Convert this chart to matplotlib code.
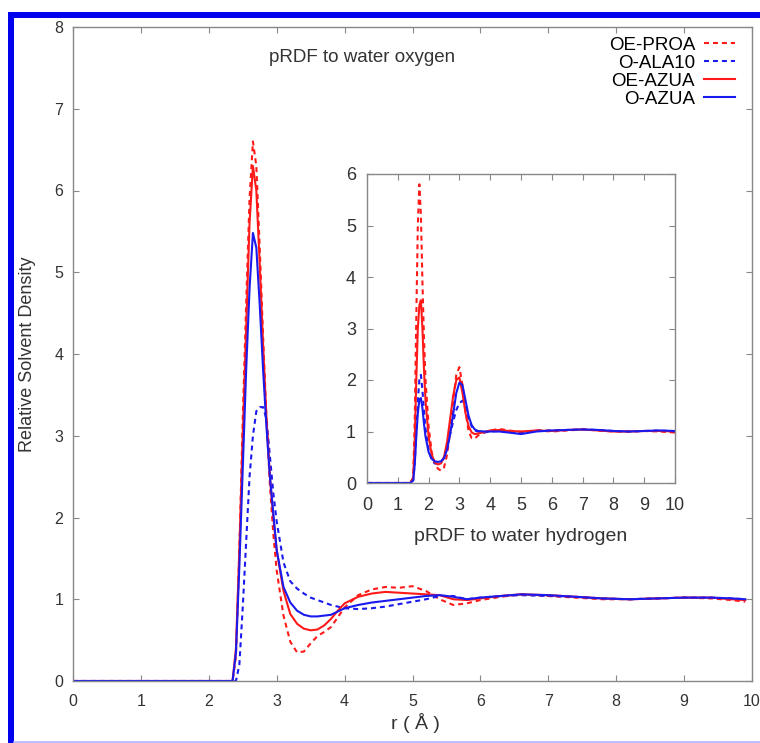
import matplotlib.pyplot as plt
from matplotlib.patches import Rectangle
from matplotlib.lines import Line2D

plt.rcParams['font.family'] = ['Liberation Sans', 'DejaVu Sans']

# main panel: pRDF to water oxygen
r_main = [0, 2.35, 2.4, 2.45, 2.5, 2.55, 2.6, 2.65, 2.7, 2.75, 2.8, 2.85, 2.9, 2.95,
          3.0, 3.1, 3.2, 3.3, 3.4, 3.5, 3.6, 3.7, 3.8, 3.9, 4.0, 4.2, 4.4, 4.6, 4.8,
          5.0, 5.2, 5.4, 5.6, 5.8, 6.0, 6.3, 6.6, 7.0, 7.4, 7.8, 8.2, 8.6, 9.0, 9.4,
          9.7, 9.9]
oe_proa = [0, 0, 0.3, 1.6, 3.2, 4.6, 5.9, 6.6, 6.3, 5.3, 4.2, 3.2, 2.4, 1.8,
           1.35, 0.8, 0.48, 0.35, 0.36, 0.46, 0.55, 0.6, 0.66, 0.78, 0.9, 1.05, 1.12, 1.15, 1.14,
           1.16, 1.1, 1.0, 0.93, 0.95, 0.99, 1.03, 1.06, 1.04, 1.02, 1.0, 1.0, 1.01, 1.02, 1.01,
           0.99, 0.97]
o_ala10 = [0, 0, 0, 0.2, 0.9, 1.7, 2.5, 3.0, 3.3, 3.35, 3.35, 3.2, 2.75, 2.3,
           1.95, 1.45, 1.22, 1.13, 1.07, 1.02, 0.99, 0.96, 0.93, 0.91, 0.89, 0.88, 0.89, 0.91, 0.94,
           0.97, 1.0, 1.04, 1.04, 1.0, 1.02, 1.04, 1.05, 1.04, 1.03, 1.01, 1.0, 1.01, 1.02, 1.02,
           1.01, 1.0]
oe_azua = [0, 0, 0.4, 1.6, 3.0, 4.3, 5.6, 6.3, 6.0, 5.1, 4.1, 3.2, 2.5, 2.0,
           1.6, 1.1, 0.82, 0.7, 0.64, 0.62, 0.63, 0.68, 0.76, 0.86, 0.95, 1.03, 1.07, 1.09, 1.08,
           1.07, 1.06, 1.05, 1.0, 0.99, 1.01, 1.04, 1.06, 1.05, 1.03, 1.01, 1.0, 1.01, 1.02, 1.02,
           1.0, 0.99]
o_azua = [0, 0, 0.35, 1.4, 2.6, 3.8, 4.8, 5.48, 5.3, 4.6, 3.8, 3.1, 2.5, 2.05,
          1.6, 1.15, 0.96, 0.86, 0.81, 0.79, 0.79, 0.8, 0.81, 0.85, 0.89, 0.93, 0.96, 0.98, 1.0,
          1.02, 1.04, 1.05, 1.03, 1.0, 1.02, 1.04, 1.06, 1.05, 1.03, 1.01, 1.0, 1.01, 1.02, 1.02,
          1.01, 1.0]

# inset: pRDF to water hydrogen
r_ins = [0, 1.4, 1.5, 1.55, 1.6, 1.65, 1.7, 1.75, 1.8, 1.85, 1.9, 2.0, 2.1, 2.2, 2.3,
         2.4, 2.5, 2.6, 2.7, 2.8, 2.9, 3.0, 3.1, 3.2, 3.3, 3.4, 3.5, 3.6, 3.8, 4.0, 4.3,
         4.6, 5.0, 5.5, 6.0, 6.5, 7.0, 7.5, 8.0, 8.5, 9.0, 9.5, 10.0]
h_oe_proa = [0, 0, 0.1, 1.2, 3.2, 5.0, 5.8, 5.2, 3.9, 2.8, 2.0, 1.1, 0.6, 0.38, 0.28,
             0.24, 0.3, 0.55, 1.0, 1.6, 2.1, 2.25, 1.9, 1.4, 1.0, 0.87, 0.86, 0.92, 0.98, 1.02, 1.05,
             1.02, 0.99, 1.02, 1.0, 1.02, 1.04, 1.02, 1.0, 1.0, 1.01, 1.0, 0.98]
h_o_ala10 = [0, 0, 0.05, 0.4, 1.0, 1.6, 2.0, 2.1, 1.8, 1.4, 1.05, 0.65, 0.45, 0.38, 0.37,
             0.4, 0.5, 0.7, 0.95, 1.2, 1.42, 1.55, 1.6, 1.45, 1.25, 1.1, 1.02, 1.0, 0.98, 1.0, 1.01,
             0.98, 0.97, 1.02, 1.02, 1.03, 1.04, 1.03, 1.01, 1.0, 1.01, 1.02, 1.0]
h_oe_azua = [0, 0, 0.1, 0.8, 2.0, 3.0, 3.45, 3.55, 3.0, 2.2, 1.6, 0.9, 0.55, 0.4, 0.36,
             0.38, 0.5, 0.8, 1.25, 1.7, 2.0, 2.05, 1.75, 1.35, 1.1, 0.98, 0.95, 0.96, 0.99, 1.02, 1.03,
             1.01, 1.0, 1.02, 1.01, 1.03, 1.04, 1.02, 1.0, 1.0, 1.01, 1.01, 1.0]
h_o_azua = [0, 0, 0.05, 0.35, 0.9, 1.35, 1.62, 1.65, 1.45, 1.15, 0.9, 0.6, 0.47, 0.42, 0.41,
            0.42, 0.48, 0.65, 0.95, 1.35, 1.75, 1.95, 1.9, 1.6, 1.3, 1.12, 1.04, 1.01, 1.0, 1.0, 1.0,
            0.98, 0.95, 1.0, 1.02, 1.03, 1.04, 1.03, 1.01, 1.0, 1.01, 1.02, 1.01]

labels = ['OE-PROA', 'O-ALA10', 'OE-AZUA', 'O-AZUA']
RED = '#ff1a1a'
BLUE = '#1a1aee'
dash = (0, (2.4, 1.9))
styles = [(RED, dash), (BLUE, dash), (RED, '-'), (BLUE, '-')]

W, H = 760, 743
fig = plt.figure(figsize=(W / 100, H / 100), dpi=100)

ax = fig.add_axes([73 / W, 1 - 681 / H, 679 / W, 654 / H])
for y, (c, ls), lab in zip([oe_proa, o_ala10, oe_azua, o_azua], styles, labels):
    ax.plot(r_main, y, color=c, linestyle=ls, lw=1.5, label=lab)

ax.set_xlim(0, 10)
ax.set_ylim(0, 8)
ax.set_xticks(range(0, 11))
ax.set_yticks(range(0, 9))
ax.set_xlabel('r ( Å )', fontsize=14, color='#333333')
ax.set_ylabel('Relative Solvent Density', fontsize=13, color='#333333')
ax.xaxis.set_label_coords(0.505, -0.049)
ax.yaxis.set_label_coords(-0.054, 0.5)
ax.tick_params(axis='x', pad=9)
ax.tick_params(axis='y', pad=7)
ax.tick_params(labelsize=11.5)
ax.text(4.26, 7.63, 'pRDF to water oxygen', ha='center', va='center', fontsize=13.5, color='#333333')

ax.legend(loc='upper right', bbox_to_anchor=(744 / W, 1 - 27 / H), bbox_transform=fig.transFigure,
          frameon=False, markerfirst=False, borderpad=0, handlelength=1.66, handletextpad=0.45,
          labelspacing=0.05, fontsize=13.5)

ax2 = fig.add_axes([367 / W, 1 - 483 / H, 308 / W, 309 / H])
for y, (c, ls) in zip([h_oe_proa, h_o_ala10, h_oe_azua, h_o_azua], styles):
    ax2.plot(r_ins, y, color=c, linestyle=ls, lw=1.5)
ax2.set_xlim(0, 10)
ax2.set_ylim(0, 6)
ax2.set_xticks(range(0, 11))
ax2.set_yticks(range(0, 7))
ax2.set_xlabel('pRDF to water hydrogen', fontsize=14, color='#333333')
ax2.xaxis.set_label_coords(0.5, -0.146)
ax2.tick_params(axis='x', pad=10)
ax2.tick_params(axis='y', pad=8)
ax2.tick_params(labelsize=13)

for a in (ax, ax2):
    for s in a.spines.values():
        s.set_color('#888888')
        s.set_linewidth(1.0)
    a.tick_params(direction='in', top=True, right=True, length=4.5, width=0.8,
                  color='#888888', labelcolor='#333333')

# blue frame around the picture
fig.add_artist(Rectangle((8 / W, 0), 6 / W, 1 - 12 / H, transform=fig.transFigure,
                         color='#0000ee', lw=0))
fig.add_artist(Rectangle((8 / W, 1 - 18 / H), 1 - 8 / W, 6 / H, transform=fig.transFigure,
                         color='#0000ee', lw=0))
fig.add_artist(Line2D([14 / W, 1], [1 - 741.5 / H] * 2, transform=fig.transFigure,
                      color='#b0b4ff', lw=1.2))

fig.savefig('out.png', dpi=100)
